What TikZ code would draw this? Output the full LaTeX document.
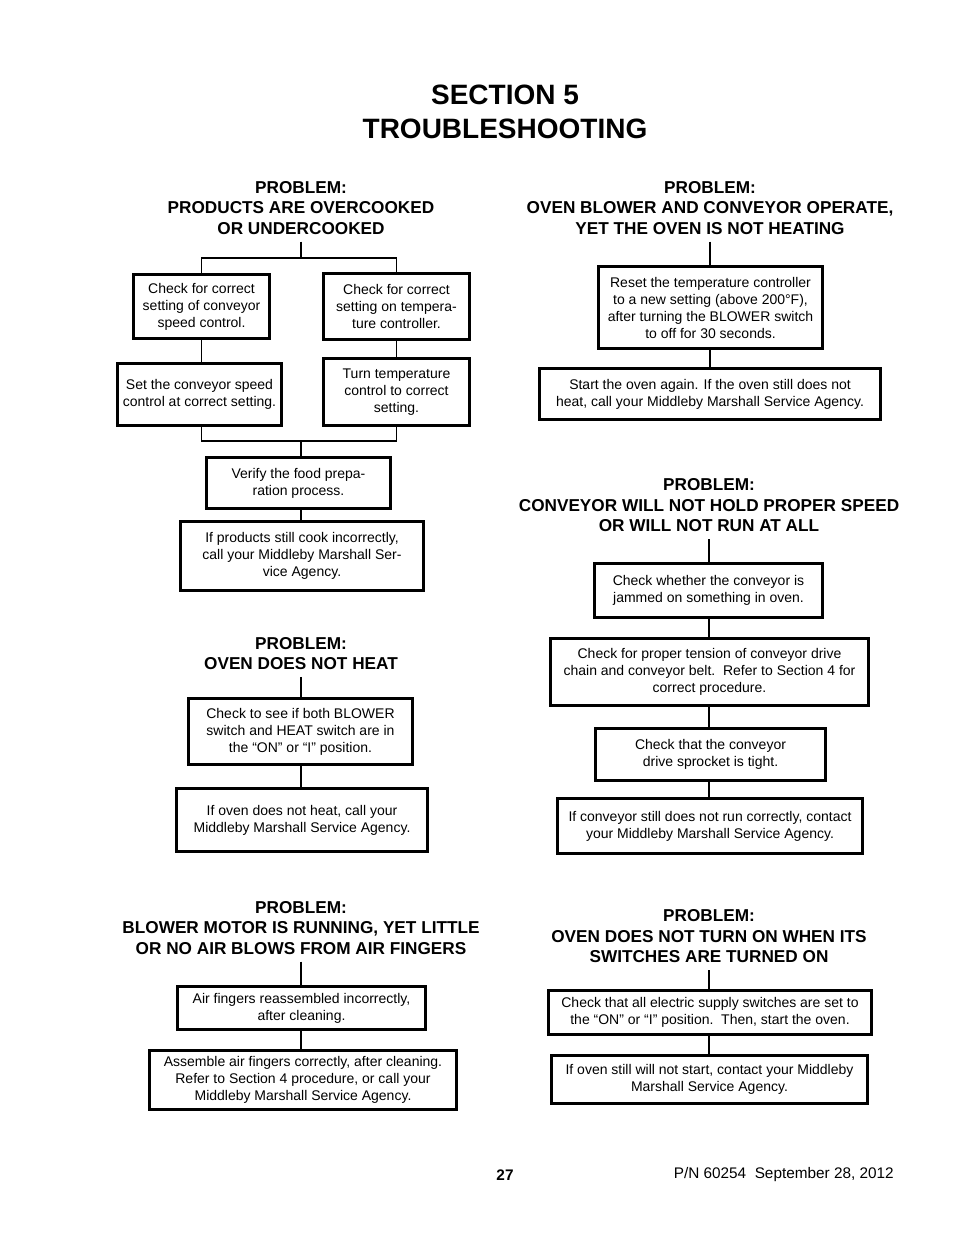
\documentclass[tikz,border=0pt]{standalone}
\usepackage{fontspec}
\setmainfont{Liberation Sans}
\usepackage{tikz}

\begin{document}
\begin{tikzpicture}[x=0.75pt,y=-0.75pt,
  box/.style={draw,line width=2.4pt,align=center,inner sep=0pt,font=\fontsize{10.5}{12.75}\selectfont},
  head/.style={align=center,inner sep=5pt,font=\fontsize{12.9}{15.4}\selectfont\bfseries},
  link/.style={line width=1.4pt}]
\useasboundingbox (0,0) rectangle (954,1235);

% title
\node[align=center,font=\fontsize{21}{25.5}\selectfont\bfseries] (title) at (505,112) {SECTION 5\\TROUBLESHOOTING};

% left column
\node[head] (h1) at (301,208) {PROBLEM:\\PRODUCTS ARE OVERCOOKED\\OR UNDERCOOKED};
\node[box,minimum width=101.85pt,minimum height=47.85pt] (a1) at (201.5,306.5) {Check for correct\\setting of conveyor\\speed control.};
\node[box,minimum width=109.35pt,minimum height=49.35pt] (a2) at (396.5,306.5) {Check for correct\\setting on tempera-\\ture controller.};
\node[box,minimum width=122.85pt,minimum height=46.35pt] (b1) at (199.5,394.5) {Set the conveyor speed\\control at correct setting.};
\node[box,minimum width=109.35pt,minimum height=50.1pt] (b2) at (396.5,392) {Turn temperature\\control to correct\\setting.};
\node[box,minimum width=137.85pt,minimum height=38.1pt] (c) at (298.5,483) {Verify the food prepa-\\ration process.};
\node[box,minimum width=182.1pt,minimum height=51.6pt] (d) at (302,556) {If products still cook incorrectly,\\call your Middleby Marshall Ser-\\vice Agency.};
\coordinate (j1) at (301,258);
\coordinate (j2) at (301,441);
\draw[link] (h1.south) -- (j1);
\draw[link] (a1.north) |- (j1) -| (a2.north);
\draw[link] (a1.south) -- (a1.south |- b1.north);
\draw[link] (a2.south) -- (b2.north);
\draw[link] (b1.south -| a1.south) |- (j2) -| (b2.south);
\draw[link] (j2) -- (j2 |- c.north);
\draw[link] (j2 |- c.south) -- (j2 |- d.north);

\node[head] (h2) at (301,653.5) {PROBLEM:\\OVEN DOES NOT HEAT};
\node[box,minimum width=167.85pt,minimum height=49.35pt] (e) at (300.5,731.5) {Check to see if both BLOWER\\switch and HEAT switch are in\\the “ON” or “I” position.};
\node[box,minimum width=188.1pt,minimum height=47.1pt] (f) at (302,820) {If oven does not heat, call your\\Middleby Marshall Service Agency.};
\draw[link] (h2.south) -- (h2.south |- e.north);
\draw[link] (h2.south |- e.south) -- (h2.south |- f.north);

\node[head] (h3) at (301,928) {PROBLEM:\\BLOWER MOTOR IS RUNNING, YET LITTLE\\OR NO AIR BLOWS FROM AIR FINGERS};
\node[box,minimum width=185.85pt,minimum height=32.1pt] (g) at (301.5,1008) {Air fingers reassembled incorrectly,\\after cleaning.};
\node[box,minimum width=230.1pt,minimum height=44.1pt] (k) at (303,1080) {Assemble air fingers correctly, after cleaning.\\Refer to Section 4 procedure, or call your\\Middleby Marshall Service Agency.};
\draw[link] (h3.south) -- (h3.south |- g.north);
\draw[link] (h3.south |- g.south) -- (h3.south |- k.north);

% right column
\node[head] (r1) at (710,208) {PROBLEM:\\OVEN BLOWER AND CONVEYOR OPERATE,\\YET THE OVEN IS NOT HEATING};
\node[box,minimum width=167.85pt,minimum height=61.35pt] (m1) at (710.5,307.5) {Reset the temperature controller\\to a new setting (above 200°F),\\after turning the BLOWER switch\\to off for 30 seconds.};
\node[box,minimum width=255.6pt,minimum height=38.1pt] (m2) at (710,394) {Start the oven again. If the oven still does not\\heat, call your Middleby Marshall Service Agency.};
\draw[link] (r1.south) -- (r1.south |- m1.north);
\draw[link] (r1.south |- m1.south) -- (r1.south |- m2.north);

\node[head] (r2) at (709,505.5) {PROBLEM:\\CONVEYOR WILL NOT HOLD PROPER SPEED\\OR WILL NOT RUN AT ALL};
\node[box,minimum width=170.85pt,minimum height=40.35pt] (n1) at (708.5,590.5) {Check whether the conveyor is\\jammed on something in oven.};
\node[box,minimum width=238.35pt,minimum height=50.1pt] (n2) at (709.5,672) {Check for proper tension of conveyor drive\\chain and conveyor belt.\ \ Refer to Section 4 for\\correct procedure.};
\node[box,minimum width=172.35pt,minimum height=38.85pt] (n3) at (710.5,754.5) {Check that the conveyor\\drive sprocket is tight.};
\node[box,minimum width=228.6pt,minimum height=41.1pt] (n4) at (710,826) {If conveyor still does not run correctly, contact\\your Middleby Marshall Service Agency.};
\draw[link] (r2.south) -- (r2.south |- n1.north);
\draw[link] (r2.south |- n1.south) -- (r2.south |- n2.north);
\draw[link] (r2.south |- n2.south) -- (r2.south |- n3.north);
\draw[link] (r2.south |- n3.south) -- (r2.south |- n4.north);

\node[head] (r3) at (709,936.5) {PROBLEM:\\OVEN DOES NOT TURN ON WHEN ITS\\SWITCHES ARE TURNED ON};
\node[box,minimum width=242.1pt,minimum height=32.85pt] (p1) at (710,1012.5) {Check that all electric supply switches are set to\\the “ON” or “I” position.\ \ Then, start the oven.};
\node[box,minimum width=236.85pt,minimum height=35.85pt] (p2) at (709.5,1079.5) {If oven still will not start, contact your Middleby\\Marshall Service Agency.};
\draw[link] (r3.south) -- (r3.south |- p1.north);
\draw[link] (r3.south |- p1.south) -- (r3.south |- p2.north);

% footer
\node[font=\fontsize{11.5}{13.5}\selectfont\bfseries] (pg) at (505,1175) {27};
\node[anchor=east,inner sep=0pt,font=\fontsize{11.5}{13.5}\selectfont] (pn) at (894,1175) {P/N 60254\ \ September 28, 2012};
\end{tikzpicture}
\end{document}
